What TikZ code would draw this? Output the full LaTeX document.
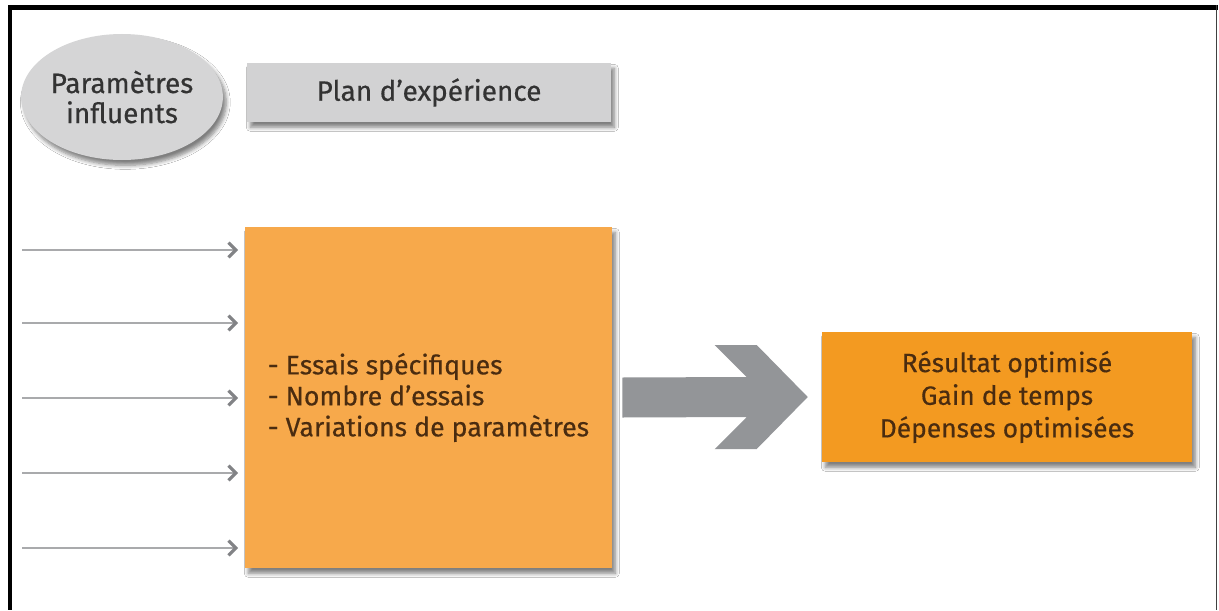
\documentclass[tikz,border=0pt]{standalone}
\usepackage{fontspec}
\setmainfont{Fira Sans}[FakeBold=0.45]
\usetikzlibrary{shapes.geometric,shadows.blur,arrows.meta,calc}

\definecolor{ovalgray}{HTML}{D5D5D6}
\definecolor{boxgray}{HTML}{D2D2D3}
\definecolor{paleorange}{HTML}{F7A94B}
\definecolor{deeporange}{HTML}{F39A21}
\definecolor{arrowgray}{HTML}{939598}
\definecolor{linegray}{HTML}{A9AAAC}
\definecolor{tipgray}{HTML}{828386}
\definecolor{graytext}{HTML}{333333}
\definecolor{browntext}{HTML}{4A2C10}

\begin{document}
\begin{tikzpicture}[x=0.75pt,y=-0.75pt,
  softshadow/.style={blur shadow={shadow xshift=2.5pt,shadow yshift=-4pt,
      shadow blur steps=6,shadow blur radius=3pt,shadow opacity=50}},
  oval/.style={ellipse,fill=ovalgray,inner sep=0pt,softshadow,
      text=graytext,align=center,font=\fontsize{21}{22.5}\selectfont},
  graybox/.style={rectangle,fill=boxgray,inner sep=0pt,softshadow,
      text=graytext,font=\fontsize{21}{22}\selectfont},
  paleblock/.style={rectangle,fill=paleorange,inner sep=0pt,softshadow,
      text=browntext,align=left,font=\fontsize{20}{23.25}\selectfont},
  resultblock/.style={rectangle,fill=deeporange,inner sep=0pt,softshadow,
      text=browntext,align=center,font=\fontsize{19.8}{24.5}\selectfont},
  inarrow/.style={draw=linegray,line width=1.6pt,shorten >=5pt,
      -{Straight Barb[length=5.5pt,width=11pt,line width=2.4pt,color=tipgray]}},
  bigarrow/.style={fill=arrowgray}
]
\useasboundingbox (0,0) rectangle (1219,610);
\fill[white] (0,0) rectangle (1219,610);

% page frame: heavy top and left rules, hairline on the right
\fill[black] (8,5) rectangle (1218,10);
\fill[black] (8,5) rectangle (12,610);
\fill[black!75] (1216,5) rectangle (1217.3,610);

% nodes
\node[oval,minimum width=145.5pt,minimum height=94.5pt] (params) at (122,97)
  {Paramètres\\influents};
\node[graybox,minimum width=273pt,minimum height=44.25pt] (plan) at (429,92.5)
  {Plan d’expérience};
\node[paleblock,minimum width=275.25pt,minimum height=255.75pt] (trials) at (428.5,397.5)
  {- Essais spécifiques\\- Nombre d’essais\\- Variations de paramètres};
\node[resultblock,minimum width=277.5pt,minimum height=97.5pt] (result) at (1007,397)
  {Résultat optimisé\\Gain de temps\\Dépenses optimisées};

% incoming parameter lines
\foreach \i/\y in {1/250,2/323,3/398,4/473,5/548}{
  \coordinate (in\i) at (22,\y);
  \draw[inarrow] (in\i) -- (in\i -| trials.west);
}

% broad notched arrow from the trials block to the result
\coordinate (tail) at ($(trials.east)+(10,0)$);
\coordinate (tip) at ($(result.west)+(-14,0)$);
\fill[bigarrow]
  ($(tail)+(0,-20)$) -- ($(tip)+(-61,-20)$) -- ($(tip)+(-93,-52)$) --
  ($(tip)+(-51,-52)$) -- (tip) -- ($(tip)+(-51,52)$) --
  ($(tip)+(-93,52)$) -- ($(tip)+(-61,20)$) -- ($(tail)+(0,20)$) -- cycle;
\end{tikzpicture}
\end{document}
